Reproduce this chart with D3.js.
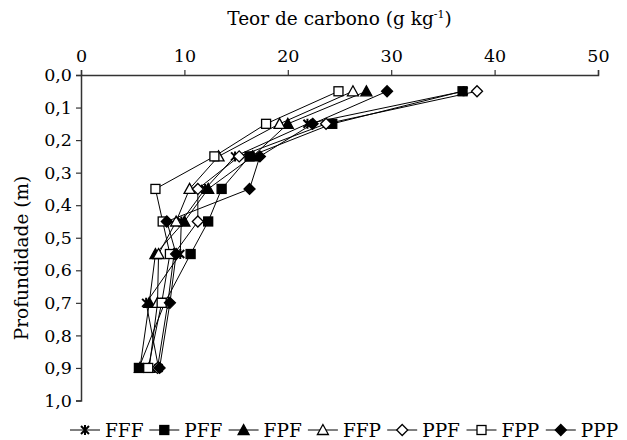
<!DOCTYPE html>
<html>
<head>
<meta charset="utf-8">
<script src="https://cdn.jsdelivr.net/npm/d3@7"></script>
<style>
  body { margin: 0; background: #fff; }
  svg text { font-family: "DejaVu Serif", serif; fill: #000; }
</style>
</head>
<body>
<script>
// depths (m) and carbon content (g/kg) per treatment
var depths = [0.05, 0.15, 0.25, 0.35, 0.45, 0.55, 0.7, 0.9];
var FFF = [37.0, 21.9, 14.9, 12.0, 9.7, 9.6, 6.3, 7.5];
var PFF = [36.9, 24.3, 16.3, 13.6, 12.3, 10.6, 8.1, 5.6];
var FPF = [27.6, 20.0, 16.6, 12.3, 10.0, 7.2, 6.6, 5.7];
var FFP = [26.3, 19.2, 13.3, 10.5, 9.2, 7.5, 7.4, 6.6];
var PPF = [38.3, 23.7, 15.3, 11.3, 11.3, 9.0, 8.4, 7.4];
var FPP = [24.9, 17.9, 12.9, 7.2, 7.9, 8.6, 7.8, 6.5];
var PPP = [29.6, 22.4, 17.3, 16.3, 8.3, 9.2, 8.6, 7.6];

var seriesNames = ["FFF", "PFF", "FPF", "FFP", "PPF", "FPP", "PPP"];
var seriesValues = [FFF, PFF, FPF, FFP, PPF, FPP, PPP];
var markerTypes = ["star", "square", "triangle", "triangleOpen", "diamondOpen", "squareOpen", "diamond"];

var xTicks = [0, 10, 20, 30, 40, 50];
var yTicks = [0, 0.1, 0.2, 0.3, 0.4, 0.5, 0.6, 0.7, 0.8, 0.9, 1.0];

var width = 627, height = 440;
var margin = {top: 75, left: 81, right: 29, bottom: 39.5};

var x = d3.scaleLinear().domain([0, 50]).range([margin.left, width - margin.right]);
var y = d3.scaleLinear().domain([0, 1]).range([margin.top, height - margin.bottom]);

var svg = d3.select("body").append("svg")
  .attr("width", width)
  .attr("height", height);

// axes
var xAxis = svg.append("g")
  .attr("transform", "translate(0," + margin.top + ")")
  .call(d3.axisTop(x).tickValues(xTicks).tickSize(5).tickPadding(8));
var yAxis = svg.append("g")
  .attr("transform", "translate(" + margin.left + ",0)")
  .call(d3.axisLeft(y).tickValues(yTicks).tickSize(5).tickPadding(4)
    .tickFormat(function(d) { return d3.format(".1f")(d).replace(".", ","); }));

[xAxis, yAxis].forEach(function(g) {
  g.select(".domain").attr("stroke", "#333").attr("stroke-width", 1.5);
  g.selectAll(".tick line").attr("stroke", "#333").attr("stroke-width", 1.2);
  g.selectAll("text").attr("font-family", "DejaVu Serif").attr("font-size", 17.5).attr("fill", "#000");
});

// axis titles
var title = svg.append("text")
  .attr("x", (x(0) + x(50)) / 2).attr("y", 25)
  .attr("text-anchor", "middle")
  .attr("font-size", 18.5);
title.append("tspan").text("Teor de carbono (g kg");
title.append("tspan").attr("font-size", 11).attr("dy", -7).text("-1");
title.append("tspan").attr("dy", 7).text(")");

svg.append("text")
  .attr("transform", "translate(28,258) rotate(-90)")
  .attr("text-anchor", "middle")
  .attr("font-size", 18.5)
  .text("Profundidade (m)");

// markers
function drawMarker(g, type, cx, cy) {
  var m = g.append("g").attr("transform", "translate(" + cx + "," + cy + ")");
  var r = 4.5;
  if (type === "star") {
    m.append("path")
      .attr("d", "M-4,-4L4,4M-4,4L4,-4M0,-5L0,5")
      .attr("stroke", "#000").attr("stroke-width", 2).attr("fill", "none");
  } else if (type === "square" || type === "squareOpen") {
    m.append("rect").attr("x", -r).attr("y", -r).attr("width", 2 * r).attr("height", 2 * r)
      .attr("fill", type === "square" ? "#000" : "#fff")
      .attr("stroke", "#000").attr("stroke-width", 1.3);
  } else if (type === "triangle" || type === "triangleOpen") {
    m.append("path").attr("d", "M0,-5.5L5.5,4.5L-5.5,4.5Z")
      .attr("fill", type === "triangle" ? "#000" : "#fff")
      .attr("stroke", "#000").attr("stroke-width", 1.3);
  } else {
    m.append("path").attr("d", "M0,-5.5L5.5,0L0,5.5L-5.5,0Z")
      .attr("fill", type === "diamond" ? "#000" : "#fff")
      .attr("stroke", "#000").attr("stroke-width", 1.3);
  }
}

var line = d3.line()
  .x(function(d) { return x(d.v); })
  .y(function(d) { return y(d.depth); });

seriesValues.forEach(function(vals, i) {
  var pts = vals.map(function(v, j) { return {v: v, depth: depths[j]}; });
  var g = svg.append("g");
  g.append("path")
    .datum(pts)
    .attr("fill", "none")
    .attr("stroke", "#000")
    .attr("stroke-width", 1)
    .attr("d", line);
  pts.forEach(function(p) { drawMarker(g, markerTypes[i], x(p.v), y(p.depth)); });
});

// legend
var legend = svg.append("g");
var ly = 430;
seriesNames.forEach(function(name, i) {
  var lx = 70 + i * 79.3;
  var g = legend.append("g");
  g.append("line").attr("x1", lx).attr("x2", lx + 30).attr("y1", ly).attr("y2", ly)
    .attr("stroke", "#000").attr("stroke-width", 1);
  drawMarker(g, markerTypes[i], lx + 15, ly);
  g.append("text").attr("x", lx + 35).attr("y", ly + 6.5).attr("font-size", 18.5).text(name);
});
</script>
</body>
</html>
